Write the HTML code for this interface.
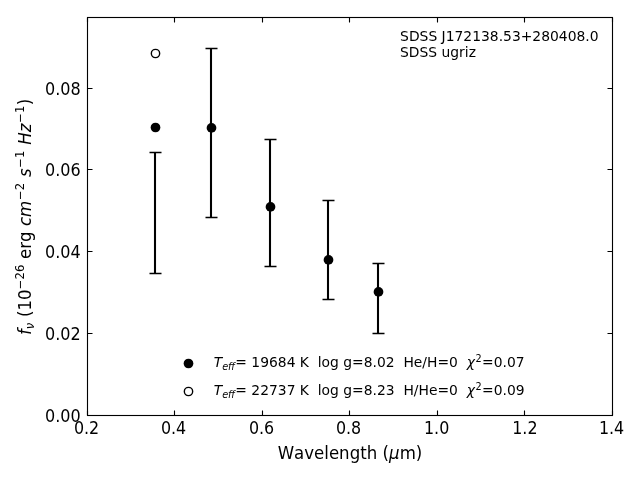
<!DOCTYPE html>
<html lang="en">
<head>
<meta charset="utf-8">
<title>SDSS J172138.53+280408.0 - SDSS ugriz photometry fit</title>
<style>
html,body{margin:0;padding:0;background:#fff;}
body{width:640px;height:480px;overflow:hidden;}
svg{display:block;will-change:transform;}
.nk{font-kerning:none;}
text{white-space:pre;font-family:"DejaVu Sans","Liberation Sans",sans-serif;fill:#000;}
</style>
</head>
<body>
<svg width="640" height="480" viewBox="0 0 640 480">
<rect x="0" y="0" width="640" height="480" fill="#fff"/>
<!-- error bars: vertical lines then caps -->
<g stroke="#000" stroke-width="2.08" fill="none">
<line x1="155.0" y1="152.5" x2="155.0" y2="273.5"/>
<line x1="211.0" y1="48.5" x2="211.0" y2="217.5"/>
<line x1="270.0" y1="139.5" x2="270.0" y2="266.5"/>
<line x1="328.0" y1="200.5" x2="328.0" y2="299.5"/>
<line x1="378.0" y1="263.5" x2="378.0" y2="333.5"/>
</g>
<g stroke="#000" stroke-width="1.39" fill="none">
<path d="M149.5 152.5h12M149.5 273.5h12"/>
<path d="M205.5 48.5h12M205.5 217.5h12"/>
<path d="M264.5 139.5h12M264.5 266.5h12"/>
<path d="M322.5 200.5h12M322.5 299.5h12"/>
<path d="M372.5 263.5h12M372.5 333.5h12"/>
</g>
<!-- filled markers (data + legend) -->
<g fill="#000"><circle cx="155.5" cy="127.5" r="4.86"/><circle cx="211.5" cy="127.9" r="4.86"/><circle cx="270.5" cy="206.9" r="4.86"/><circle cx="328.5" cy="259.9" r="4.86"/><circle cx="378.5" cy="291.9" r="4.86"/><circle cx="188.5" cy="363.5" r="4.86"/></g>
<!-- open markers (data + legend) -->
<g fill="#fff" stroke="#000" stroke-width="1.39"><circle cx="155.5" cy="53.5" r="4.17"/><circle cx="188.5" cy="391.5" r="4.17"/></g>
<!-- ticks and frame -->
<g stroke="#000" stroke-width="1.11" fill="none">
<path d="M87.5 415.5v-5M87.5 17.5v5M174.5 415.5v-5M174.5 17.5v5M262.5 415.5v-5M262.5 17.5v5M349.5 415.5v-5M349.5 17.5v5M437.5 415.5v-5M437.5 17.5v5M524.5 415.5v-5M524.5 17.5v5M612.5 415.5v-5M612.5 17.5v5"/>
<path d="M87.5 415.5h5M612.5 415.5h-5M87.5 333.5h5M612.5 333.5h-5M87.5 251.5h5M612.5 251.5h-5M87.5 169.5h5M612.5 169.5h-5M87.5 88.5h5M612.5 88.5h-5"/>
<rect x="87.5" y="17.5" width="525" height="398"/>
</g>
<!-- text -->
<text id="t0" transform="translate(86.55 433.83) scale(0.9550 1.0750)" text-anchor="middle" font-size="16.67">0.2</text>
<text id="t1" transform="translate(173.55 433.83) scale(0.9550 1.0750)" text-anchor="middle" font-size="16.67">0.4</text>
<text id="t2" transform="translate(261.55 433.83) scale(0.9550 1.0750)" text-anchor="middle" font-size="16.67">0.6</text>
<text id="t3" transform="translate(348.55 433.83) scale(0.9550 1.0750)" text-anchor="middle" font-size="16.67">0.8</text>
<text id="t4" transform="translate(436.65 433.83) scale(0.9550 1.0750)" text-anchor="middle" font-size="16.67">1.0</text>
<text id="t5" transform="translate(524.85 433.83) scale(0.9550 1.0750)" text-anchor="middle" font-size="16.67">1.2</text>
<text id="t6" transform="translate(611.55 433.83) scale(0.9550 1.0750)" text-anchor="middle" font-size="16.67">1.4</text>
<text id="t7" class="nk" transform="translate(277.67 460.01) scale(0.9970 1.0500)"><tspan x="0" y="-1.22" font-size="16.67">Wavelength (</tspan><tspan x="111.74" y="-1.22" font-size="16.67" font-style="italic">μ</tspan><tspan x="122.34" y="-1.22" font-size="16.67">m)</tspan></text>
<text id="t8" transform="translate(80.64 421.63) scale(0.9620 1.0750)" text-anchor="end" font-size="16.67">0.00</text>
<text id="t9" transform="translate(80.64 339.83) scale(0.9620 1.0750)" text-anchor="end" font-size="16.67">0.02</text>
<text id="t10" transform="translate(80.64 257.53) scale(0.9620 1.0750)" text-anchor="end" font-size="16.67">0.04</text>
<text id="t11" transform="translate(80.64 175.73) scale(0.9620 1.0750)" text-anchor="end" font-size="16.67">0.06</text>
<text id="t12" transform="translate(80.64 94.93) scale(0.9620 1.0750)" text-anchor="end" font-size="16.67">0.08</text>
<text id="t13" class="nk" transform="translate(31.22 335.08) rotate(-90) scale(0.9970 1.0200)"><tspan x="0" y="-0.24" font-size="16.67" font-style="italic">f</tspan><tspan x="5.87" y="2.5" font-size="11.67" font-style="italic">ν</tspan><tspan x="12.84" y="-0.24" font-size="16.67"> (10</tspan><tspan x="46.01" y="-6.62" font-size="11.67">−26</tspan><tspan x="71.08" y="-0.24" font-size="16.67"> erg </tspan><tspan x="109.37" y="-0.24" font-size="16.67" font-style="italic">cm</tspan><tspan x="135.54" y="-6.62" font-size="11.67">−2</tspan><tspan x="153.19" y="-0.24" font-size="16.67"> </tspan><tspan x="158.49" y="-0.24" font-size="16.67" font-style="italic">s</tspan><tspan x="167.95" y="-6.62" font-size="11.67">−1</tspan><tspan x="185.6" y="-0.24" font-size="16.67"> </tspan><tspan x="190.9" y="-0.24" font-size="16.67" font-style="italic">Hz</tspan><tspan x="212.93" y="-6.62" font-size="11.67">−1</tspan><tspan x="230.58" y="-0.24" font-size="16.67">)</tspan></text>
<text id="t14" transform="translate(400.08 40.56) scale(1.0005 1.0250)" font-size="13.89">SDSS J172138.53+280408.0</text>
<text id="t15" transform="translate(400.08 56.61) scale(0.9980 1.0700)" font-size="13.89">SDSS ugriz</text>
<text id="t16" class="nk" transform="translate(213.67 368.68) scale(0.9990 1.0300)"><tspan x="0" y="-1.36" font-size="13.89" font-style="italic">T</tspan><tspan x="8.48" y="0.92" font-size="9.72" font-style="italic">eff</tspan><tspan x="21.69" y="-1.36" font-size="13.89">= 19684 K  log g=8.02  He/H=0  </tspan><tspan x="253.31" y="-1.36" font-size="13.89" font-style="italic">χ</tspan><tspan x="262.15" y="-6.67" font-size="9.72">2</tspan><tspan x="268.72" y="-1.36" font-size="13.89">=0.07</tspan></text>
<text id="t17" class="nk" transform="translate(213.67 396.68) scale(0.9990 1.0300)"><tspan x="0" y="-1.36" font-size="13.89" font-style="italic">T</tspan><tspan x="8.48" y="0.92" font-size="9.72" font-style="italic">eff</tspan><tspan x="21.69" y="-1.36" font-size="13.89">= 22737 K  log g=8.23  H/He=0  </tspan><tspan x="253.31" y="-1.36" font-size="13.89" font-style="italic">χ</tspan><tspan x="262.15" y="-6.67" font-size="9.72">2</tspan><tspan x="268.72" y="-1.36" font-size="13.89">=0.09</tspan></text>
</svg>
</body>
</html>
